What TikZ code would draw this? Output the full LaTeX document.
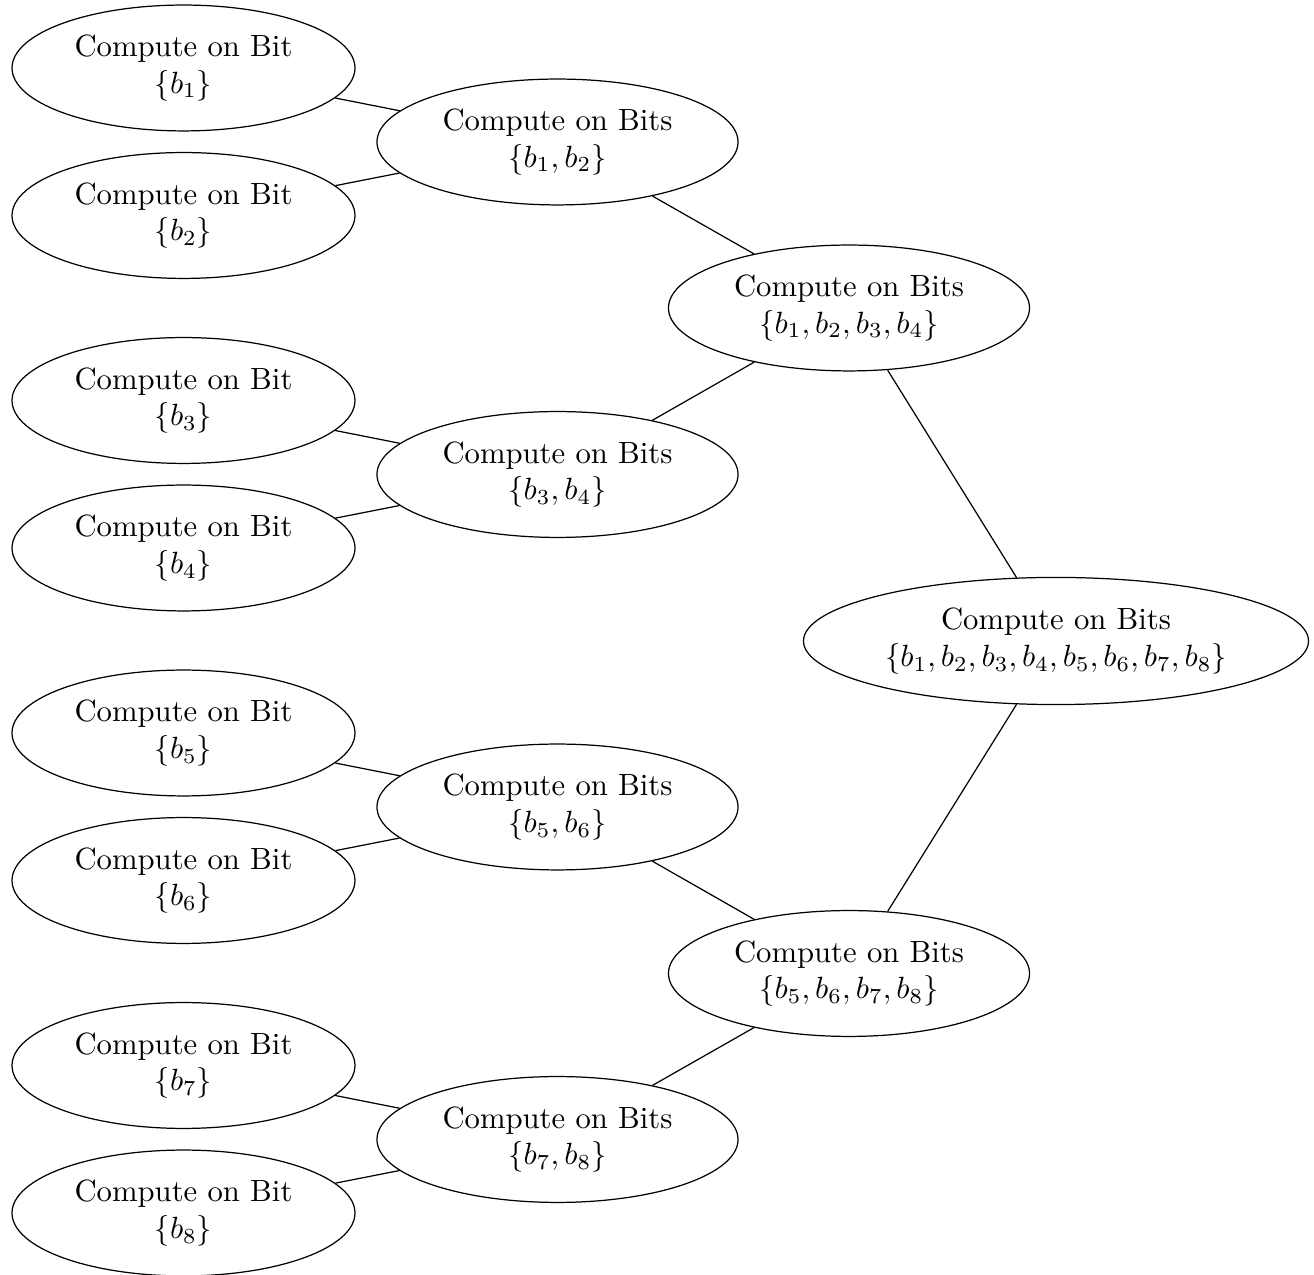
\documentclass[tikz,border=0pt]{standalone}
\usetikzlibrary{shapes.geometric}
\begin{document}
\begin{tikzpicture}[x=0.3257pt,y=-0.3257pt,
  bub/.style={ellipse,draw,align=center,inner sep=0pt},
  leafbub/.style={bub,minimum width=111.7pt,minimum height=41.0pt},
  midbub/.style={bub,minimum width=117.6pt,minimum height=41.0pt},
  rootbub/.style={bub,minimum width=164.5pt,minimum height=41.4pt},
  link/.style={draw}]
\useasboundingbox (0,0) rectangle (1314,1275);
% leaves
\node[leafbub] (a1) at (183.5,68)    {Compute on Bit\\$\{b_1\}$};
\node[leafbub] (a2) at (183.5,215.5) {Compute on Bit\\$\{b_2\}$};
\node[leafbub] (a3) at (183.5,400.5) {Compute on Bit\\$\{b_3\}$};
\node[leafbub] (a4) at (183.5,548)   {Compute on Bit\\$\{b_4\}$};
\node[leafbub] (a5) at (183.5,733)   {Compute on Bit\\$\{b_5\}$};
\node[leafbub] (a6) at (183.5,880.5) {Compute on Bit\\$\{b_6\}$};
\node[leafbub] (a7) at (183.5,1065.5){Compute on Bit\\$\{b_7\}$};
\node[leafbub] (a8) at (183.5,1213)  {Compute on Bit\\$\{b_8\}$};
% level 2
\node[midbub] (m1) at (557.5,142)   {Compute on Bits\\$\{b_1,b_2\}$};
\node[midbub] (m2) at (557.5,474.5) {Compute on Bits\\$\{b_3,b_4\}$};
\node[midbub] (m3) at (557.5,807)   {Compute on Bits\\$\{b_5,b_6\}$};
\node[midbub] (m4) at (557.5,1139.5){Compute on Bits\\$\{b_7,b_8\}$};
% level 3
\node[midbub] (q1) at (849,308)     {Compute on Bits\\$\{b_1,b_2,b_3,b_4\}$};
\node[midbub] (q2) at (849,973.5)   {Compute on Bits\\$\{b_5,b_6,b_7,b_8\}$};
% root
\node[rootbub] (r) at (1056,641)    {Compute on Bits\\$\{b_1,b_2,b_3,b_4,b_5,b_6,b_7,b_8\}$};
% connectors
\draw[link] (a1) -- (m1);
\draw[link] (a2) -- (m1);
\draw[link] (a3) -- (m2);
\draw[link] (a4) -- (m2);
\draw[link] (a5) -- (m3);
\draw[link] (a6) -- (m3);
\draw[link] (a7) -- (m4);
\draw[link] (a8) -- (m4);
\draw[link] (m1) -- (q1);
\draw[link] (m2) -- (q1);
\draw[link] (m3) -- (q2);
\draw[link] (m4) -- (q2);
\draw[link] (q1) -- (r);
\draw[link] (q2) -- (r);
\end{tikzpicture}
\end{document}
